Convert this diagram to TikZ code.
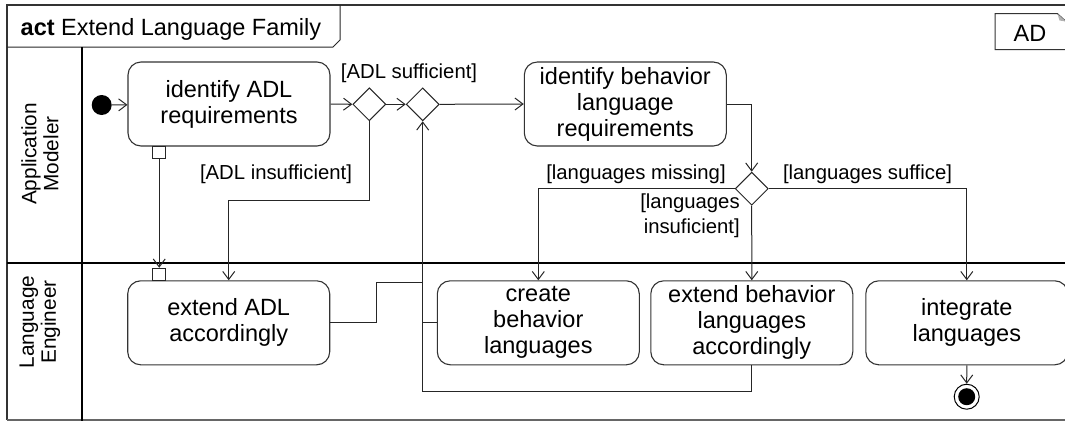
\documentclass[tikz,border=0pt]{standalone}
\usepackage{fontspec}
\setmainfont{Liberation Sans}
\usetikzlibrary{arrows.meta,shapes.geometric,calc}
\begin{document}
\begin{tikzpicture}[x=1pt,y=-1pt,
  actbox/.style={draw=black!80, line width=1.1pt, rounded corners=13pt, minimum width=202pt, minimum height=84pt, align=center, font=\fontsize{23.5}{26}\selectfont, inner sep=0pt},
  decbox/.style={draw=black!85, line width=1pt, diamond, minimum width=33pt, minimum height=33pt, inner sep=0pt},
  connline/.style={draw=black!85, line width=1pt},
  arrline/.style={connline, -{Straight Barb[length=8pt,width=12pt]}},
  lbltext/.style={font=\fontsize{20.3}{25}\selectfont, inner sep=0pt, align=center},
  pinbox/.style={draw=black!85, line width=1pt, minimum width=13pt, minimum height=12.5pt, inner sep=0pt},
  laneline/.style={line width=2.5pt, draw=black},
  lanelbl/.style={rotate=90, font=\fontsize{20.8}{22}\selectfont, align=center, inner sep=0pt}
]
\useasboundingbox (0,0) rectangle (1065,421);
% frame
\draw[draw=black!80, line width=1.2pt] (1066,5) -- (7,5) -- (7,420);
\draw[draw=black!60, line width=2pt] (7,420) -- (1066,420);
\draw[draw=black!85, line width=1pt] (7,47) -- (333,47) -- (340,40) -- (340,5);
\node[anchor=base west, font=\fontsize{23.5}{25}\selectfont, inner sep=0pt] (title) at (20.5,35) {\textbf{act} Extend Language Family};
% AD note
\draw[draw=black!80, line width=1pt] (1067,49.7) -- (995,49.7) -- (995,13.7) -- (1057.5,13.7) -- (1066,21.5);
\fill[black!30] (1057.5,13.7) -- (1059.5,20.5) -- (1066,21.5) -- cycle;
\node[font=\fontsize{23.5}{25}\selectfont, inner sep=0pt] (adlbl) at (1030,33) {AD};
% lanes
\draw[laneline] (82,47) -- (82,421);
\draw[laneline] (7,263) -- (1066,263);
\node[lanelbl] (laneA) at (40,154) {Application\\Modeler};
\node[lanelbl] (laneB) at (40,322) {Language\\Engineer};
% nodes
\node[circle, fill=black, minimum size=20pt, inner sep=0pt] (init) at (101.7,105) {};
\node[actbox] (idADL) at (229,104) {identify ADL\\requirements};
\node[decbox] (d1) at (369.3,104.3) {};
\node[decbox] (d2) at (422.7,104.3) {};
\node[actbox] (idBeh) at (625.3,104) {identify behavior\\language\\requirements};
\node[decbox] (d3) at (751.7,188.7) {};
\node[actbox] (extADL) at (228.7,322.8) {extend ADL\\accordingly};
\node[actbox] (create) at (538.3,322.8) {create\\behavior\\languages};
\node[actbox] (extBeh) at (751.8,322.8) {extend behavior\\languages\\accordingly};
\node[actbox] (integ) at (966.8,322.8) {integrate\\languages};
\node[circle, draw=black, line width=1pt, minimum size=25pt, inner sep=0pt] (fin) at (966.7,396.7) {};
\node[circle, fill=black, minimum size=17pt, inner sep=0pt] (finin) at (fin.center) {};
\node[pinbox] (p1) at (159.2,152.4) {};
\node[pinbox] (p2) at (159.2,274.5) {};
\coordinate (j1) at (376,282.3);
\coordinate (j2) at (422.7,282.3);
\coordinate (loopC) at (422.7,391.7);
\coordinate (br1) at (369.3,200.7);
% connectors
\draw[arrline] (init) -- (idADL);
\draw[arrline] (idADL.east) -- (d1.west);
\draw[arrline] (d1.east) -- (d2.west);
\draw[arrline] (d2.east) -- (idBeh.west);
\draw[arrline] (d1.south) -- (br1) -| (extADL.north);
\draw[arrline] (p1.south) -- (p2.north);
\draw[arrline] (idBeh.east) -| (d3.north);
\draw[arrline] (d3.west) -| (create.north);
\draw[arrline] (d3.south) -- (extBeh.north);
\draw[arrline] (d3.east) -| (integ.north);
\draw[arrline] (integ.south) -- (fin.north);
\draw[arrline] (extBeh.south) |- (loopC) -- (d2.south);
\draw[connline] (extADL.east) -| (j1) -- (j2);
\draw[connline] (create.west) -- (create.west -| loopC);
% labels
\node[lbltext] (l1) at (409,73) {[ADL sufficient]};
\node[lbltext] (l2) at (276,174) {[ADL insufficient]};
\node[lbltext] (l3) at (636,174) {[languages missing]};
\node[lbltext, align=right] (l4) at (690,216) {[languages\\insuficient]};
\node[lbltext] (l5) at (867.5,174) {[languages suffice]};
\end{tikzpicture}
\end{document}
